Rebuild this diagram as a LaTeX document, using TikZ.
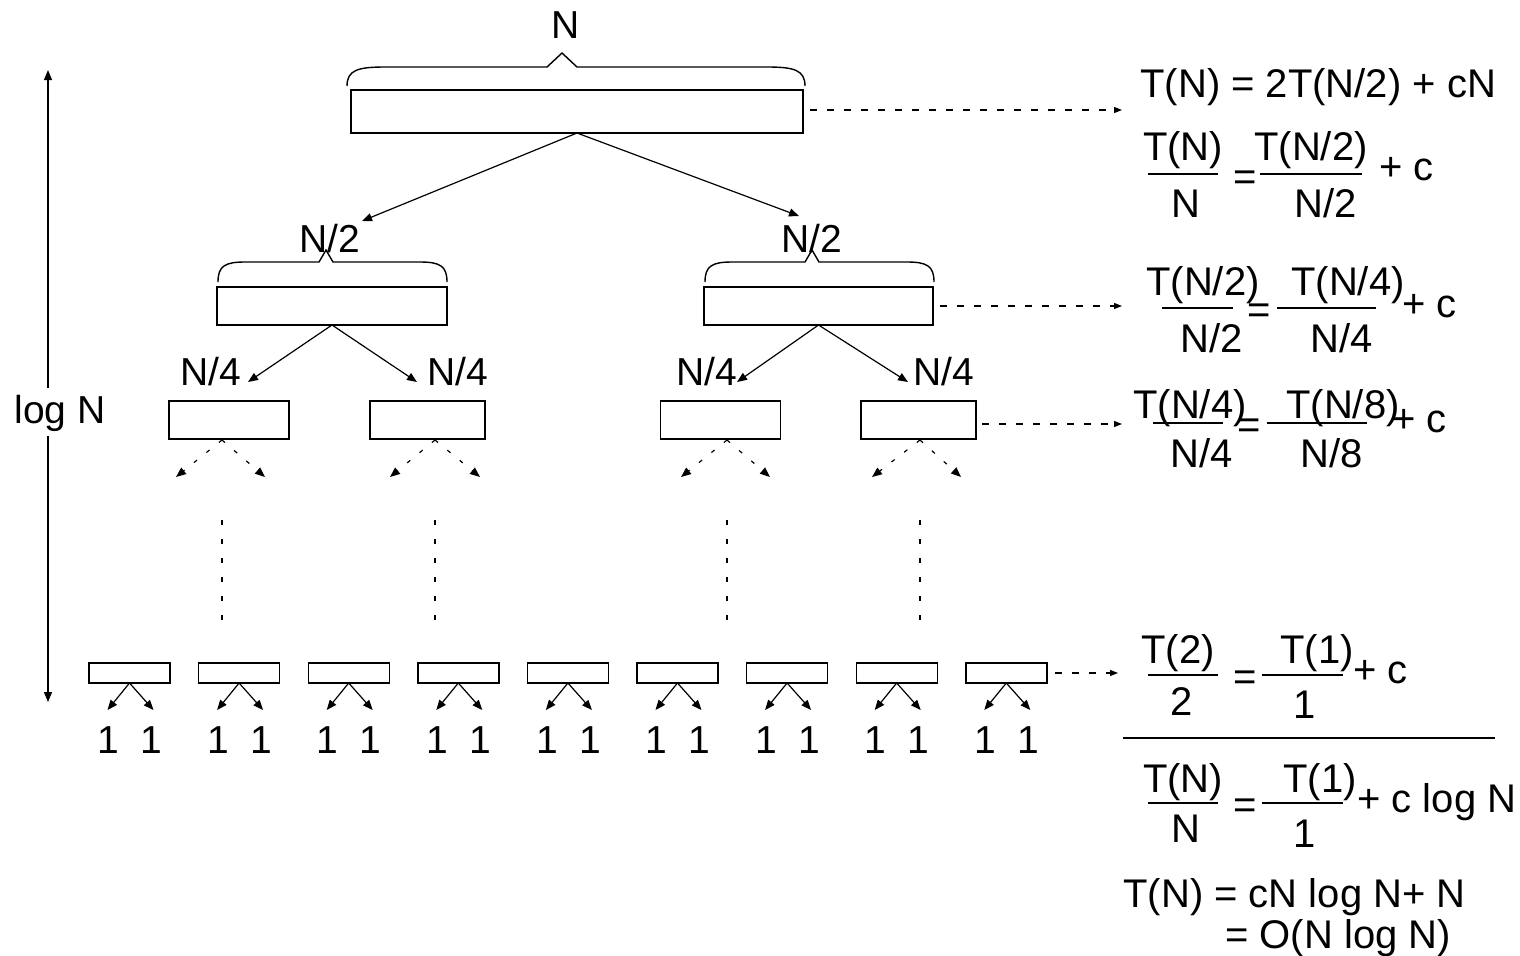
\documentclass[tikz,border=0pt]{standalone}
\usepackage{fontspec}
\setmainfont{Liberation Sans}
\usetikzlibrary{arrows.meta,positioning}

\tikzset{
  blk/.style={draw,line width=0.7pt,inner sep=0pt,outer sep=0pt},
  lbl/.style={font=\fontsize{19.5}{23}\selectfont,inner sep=0pt,anchor=base},
  eq/.style={font=\fontsize{20}{24}\selectfont,inner sep=0pt,anchor=base},
  eqw/.style={eq,anchor=base west},
  arr/.style={-{Triangle[length=5pt,width=4pt]},line width=0.6pt},
  darr/.style={-{Triangle[length=5pt,width=4pt]},line width=0.6pt,dash pattern=on 2pt off 6pt},
  harr/.style={-{Triangle[length=4pt,width=3pt]},line width=0.6pt,dash pattern=on 3.5pt off 5pt},
  vdots/.style={line width=0.6pt,dash pattern=on 2.5pt off 7pt},
  brc/.style={line width=0.7pt},
  fbar/.style={line width=0.6pt}
}

\begin{document}
\begin{tikzpicture}[x=0.5pt,y=-0.5pt]
  \useasboundingbox (0,0) rectangle (1520,955);

  % top level
  \node[lbl] (n) at (566,38) {N};
  \draw[brc] (347,86) .. controls (347,70) and (358,67) .. (385,67) -- (547,67) -- (562,53) -- (577,67) -- (767,67) .. controls (794,67) and (805,70) .. (805,86);
  \node[blk,minimum width=226pt,minimum height=21.5pt] (top) at (577,111.5) {};

  % second level
  \node[lbl] (hlN) at (330,252) {N/2};
  \node[lbl] (hrN) at (812,252) {N/2};
  \draw[brc] (218,282) .. controls (218,266) and (225,262) .. (245,262) -- (319,262) -- (326,250) -- (333,262) -- (420,262) .. controls (440,262) and (447,266) .. (447,282);
  \draw[brc] (705,282) .. controls (705,266) and (712,262) .. (732,262) -- (805,262) -- (812,250) -- (819,262) -- (907,262) .. controls (927,262) and (934,266) .. (934,282);
  \node[blk,minimum width=115pt,minimum height=19pt] (hl) at (332,306) {};
  \node[blk,minimum width=114.5pt,minimum height=19pt] (hr) at (818.5,306) {};

  \coordinate (tl) at (362,221);
  \coordinate (tr) at (799,216);
  \draw[arr] (top.south) -- (tl);
  \draw[arr] (top.south) -- (tr);

  % third level
  \node[lbl] (q1N) at (211,385) {N/4};
  \node[lbl] (q2N) at (458,385) {N/4};
  \node[lbl] (q3N) at (707,385) {N/4};
  \node[lbl] (q4N) at (944,385) {N/4};
  \node[blk,minimum width=60pt,minimum height=19pt] (q1) at (229,420) {};
  \node[blk,minimum width=57.5pt,minimum height=19pt] (q2) at (427.5,420) {};
  \node[blk,minimum width=60pt,minimum height=19pt] (q3) at (720.5,420) {};
  \node[blk,minimum width=57.5pt,minimum height=19pt] (q4) at (918.5,420) {};

  \coordinate (hl1) at (248,382);
  \coordinate (hl2) at (417,382);
  \coordinate (hr1) at (737,382);
  \coordinate (hr2) at (908,382);
  \draw[arr] (hl.south) -- (hl1);
  \draw[arr] (hl.south) -- (hl2);
  \draw[arr] (hr.south) -- (hr1);
  \draw[arr] (hr.south) -- (hr2);

  % dashed branches and dots
  \foreach \nm/\sx/\lx/\rx in {q1/222/176/265, q2/435/390/480, q3/727/681/770, q4/920/872/961} {
    \coordinate (\nm s) at (\sx,440);
    \draw[darr] (\nm s) -- (\lx,477);
    \draw[darr] (\nm s) -- (\rx,477);
    \draw[vdots] (\sx,520) -- (\sx,627);
  }

  % leaves
  \foreach \i in {0,...,8} {
    \pgfmathsetmacro\cx{129.5+109.6*\i}
    \node[blk,minimum width=40.5pt,minimum height=10pt] (b\i) at (\cx,673) {};
    \coordinate (bl\i) at (\cx-22,710);
    \coordinate (br\i) at (\cx+24,710);
    \draw[arr] (b\i.south) -- (bl\i);
    \draw[arr] (b\i.south) -- (br\i);
    \node[lbl] (ol\i) at (\cx-21,753) {1};
    \node[lbl] (or\i) at (\cx+22,753) {1};
  }

  % height of the tree
  \node[lbl] (logn) at (60,423) {log N};
  \coordinate (lt) at (48,70);
  \coordinate (lb) at (48,702);
  \draw[arr] ([yshift=3pt]lt |- logn.north) -- (lt);
  \draw[arr] ([yshift=-2pt]lb |- logn.south) -- (lb);

  % links to the equations
  \coordinate (e1t) at (1122,110);
  \coordinate (e3t) at (1122,306);
  \coordinate (e4t) at (1122,424);
  \coordinate (e5t) at (1118,673);
  \draw[harr] ([xshift=3.5pt,yshift=0.75pt]top.east) -- (e1t);
  \draw[harr] ([xshift=3.5pt]hr.east) -- (e3t);
  \draw[harr] ([xshift=3pt,yshift=-2pt]q4.east) -- (e4t);
  \draw[harr] ([xshift=4pt]b8.east) -- (e5t);

  % equations
  \node[eqw] (e1) at (1140,97) {T(N) = 2T(N/2) + cN};

  \node[eq] (e2a) at (1183,160) {T(N)};
  \node[eq] (e2b) at (1186,217) {N};
  \node[eq] (e2q) at (1245,190) {=};
  \node[eq] (e2c) at (1311,160) {T(N/2)};
  \node[eq] (e2d) at (1326,217) {N/2};
  \node[eqw] (e2p) at (1379,180) {+ c};
  \draw[fbar] (1148,174) -- (1218,174);
  \draw[fbar] (1260,174) -- (1362,174);

  \node[eq] (e3a) at (1203,295) {T(N/2)};
  \node[eq] (e3b) at (1212,352) {N/2};
  \node[eq] (e3q) at (1259,323) {=};
  \node[eq] (e3c) at (1348,295) {T(N/4)};
  \node[eq] (e3d) at (1342,352) {N/4};
  \node[eqw] (e3p) at (1402,317) {+ c};
  \draw[fbar] (1162,308) -- (1233,308);
  \draw[fbar] (1277,308) -- (1376,308);

  \node[eq] (e4a) at (1190,418) {T(N/4)};
  \node[eq] (e4b) at (1202,467) {N/4};
  \node[eq] (e4q) at (1249,438) {=};
  \node[eq] (e4c) at (1343,418) {T(N/8)};
  \node[eq] (e4d) at (1332,467) {N/8};
  \node[eqw] (e4p) at (1392,432) {+ c};
  \draw[fbar] (1153,423) -- (1223,423);
  \draw[fbar] (1267,423) -- (1367,423);

  \node[eq] (e5a) at (1178,663) {T(2)};
  \node[eq] (e5b) at (1182,715) {2};
  \node[eq] (e5q) at (1245,690) {=};
  \node[eq] (e5c) at (1317,663) {T(1)};
  \node[eq] (e5d) at (1305,718) {1};
  \node[eqw] (e5p) at (1353,683) {+ c};
  \draw[fbar] (1148,675) -- (1218,675);
  \draw[fbar] (1262,675) -- (1343,675);

  % sum
  \draw[fbar] (1123,738) -- (1495,738);

  \node[eq] (e6a) at (1183,792) {T(N)};
  \node[eq] (e6b) at (1186,842) {N};
  \node[eq] (e6q) at (1245,818) {=};
  \node[eq] (e6c) at (1320,792) {T(1)};
  \node[eq] (e6d) at (1305,847) {1};
  \node[eqw] (e6p) at (1357,812) {+ c log N};
  \draw[fbar] (1148,803) -- (1218,803);
  \draw[fbar] (1262,803) -- (1343,803);

  \node[eqw] (e7) at (1123,907) {T(N) = cN log N+ N};
  \node[eqw] (e8) at (1225,948) {= O(N log N)};
\end{tikzpicture}
\end{document}
